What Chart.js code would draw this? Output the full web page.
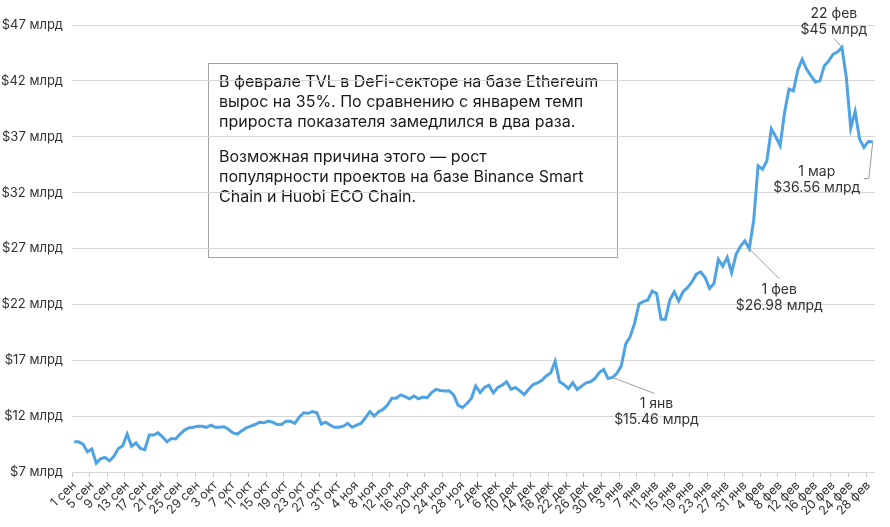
<!DOCTYPE html>
<html>
<head>
<meta charset="utf-8">
<script src="https://cdn.jsdelivr.net/npm/chart.js@4"></script>
<style>
  html, body { margin: 0; padding: 0; background: #fff; }
  #wrap { width: 890px; height: 527px; }
</style>
</head>
<body>
<div id="wrap"><canvas id="tvlChart"></canvas></div>
<script>
// Daily TVL in Ethereum DeFi, $ bn, 1 Sep – 1 Mar
const monthNames = ['сен', 'окт', 'ноя', 'дек', 'янв', 'фев', 'мар'];
const monthDays = [30, 31, 30, 31, 31, 28, 1];

const sepValues = [9.7, 9.7, 9.5, 8.8, 9.05, 7.8, 8.2, 8.3, 8.0, 8.4, 9.1, 9.35, 10.4, 9.3, 9.6,
  9.1, 9.0, 10.3, 10.3, 10.5, 10.15, 9.7, 10.0, 9.95, 10.4, 10.75, 10.95, 11.0, 11.1, 11.1];
const octValues = [11.0, 11.2, 11.0, 11.0, 11.05, 10.8, 10.5, 10.4, 10.7, 10.95, 11.1, 11.25, 11.45,
  11.4, 11.55, 11.45, 11.25, 11.25, 11.55, 11.55, 11.35, 11.9, 12.3, 12.25, 12.4, 12.3, 11.3, 11.45,
  11.2, 11.0, 11.0];
const novValues = [11.1, 11.35, 11.0, 11.2, 11.35, 11.85, 12.4, 12.0, 12.4, 12.6, 13.0, 13.6, 13.6,
  13.9, 13.75, 13.55, 13.8, 13.55, 13.7, 13.65, 14.1, 14.4, 14.3, 14.25, 14.26, 13.9, 12.98, 12.77,
  13.13, 13.58];
const decValues = [14.7, 14.11, 14.56, 14.77, 14.08, 14.56, 14.77, 15.07, 14.41, 14.56, 14.26, 13.93,
  14.41, 14.83, 14.98, 15.2, 15.6, 15.87, 16.9, 15.07, 14.83, 14.47, 15.0, 14.38, 14.68, 14.98, 15.07,
  15.36, 15.9, 16.17, 15.36];
const janValues = [15.46, 15.84, 16.5, 18.46, 19.11, 20.3, 22.03, 22.24, 22.39, 23.19, 22.98, 20.66,
  20.66, 22.39, 23.13, 22.3, 23.13, 23.49, 24.0, 24.7, 24.9, 24.4, 23.43, 23.87, 26.02, 25.42, 26.2,
  24.83, 26.46, 27.2, 27.68];
const febValues = [26.98, 29.5, 34.4, 34.1, 34.86, 37.7, 37.0, 36.2, 39.17, 41.26, 41.1, 42.95, 43.93,
  43.04, 42.45, 41.9, 42.0, 43.34, 43.79, 44.38, 44.59, 45, 42.3, 37.77, 39.26, 36.8, 36.05, 36.58];
const marValues = [36.56];

const tvlValues = [].concat(sepValues, octValues, novValues, decValues, janValues, febValues, marValues);

const yMin = 7, yMax = 47, yStep = 5;

const labels = [];
monthNames.forEach((m, k) => {
  for (let d = 1; d <= monthDays[k]; d++) labels.push(d + ' ' + m);
});

const callouts = ['1 янв', '1 фев', '22 фев', '1 мар'];

const noteLines = [
  'В феврале TVL в DeFi-секторе на базе Ethereum',
  'вырос на 35%. По сравнению с январем темп',
  'прироста показателя замедлился в два раза.',
  '',
  'Возможная причина этого — рост',
  'популярности проектов на базе Binance Smart',
  'Chain и Huobi ECO Chain.'
];

const FONT = 'Inter, "Helvetica Neue", Arial, sans-serif';

// where each callout's text and leader sit relative to its point (px)
const calloutStyle = {
  '1 янв':  { leader: [[42, 16]], text: [44, 26] },
  '1 фев':  { leader: [[30, 30]], text: [30, 41] },
  '22 фев': { leader: [[-8, -9]], text: [-8, -34] },
  '1 мар':  { leader: [[-4, 37], [-9, 37]], text: [-56, 30] }
};

const noteBox = {
  id: 'noteBox',
  beforeDraw(chart) {
    const c = chart.ctx;
    c.save();
    c.strokeStyle = '#a0a0a0';
    c.lineWidth = 1;
    c.strokeRect(208.5, 63.5, 409, 194);
    c.fillStyle = '#1a1a1a';
    c.font = '16px ' + FONT;
    c.textBaseline = 'middle';
    let y = 82;
    noteLines.forEach(line => {
      if (line === '') { y += 15; return; }
      c.fillText(line, 219, y);
      y += 20;
    });
    c.restore();
  }
};

const calloutPlugin = {
  id: 'callouts',
  afterDatasetsDraw(chart) {
    const c = chart.ctx;
    const meta = chart.getDatasetMeta(0);
    c.save();
    callouts.forEach(name => {
      const i = labels.indexOf(name);
      const pt = meta.data[i];
      const st = calloutStyle[name];
      c.strokeStyle = '#9a9a9a';
      c.lineWidth = 1;
      c.beginPath();
      c.moveTo(pt.x, pt.y);
      st.leader.forEach(([dx, dy]) => c.lineTo(pt.x + dx, pt.y + dy));
      c.stroke();
      c.fillStyle = '#333';
      c.font = '14px ' + FONT;
      c.textAlign = 'center';
      c.textBaseline = 'middle';
      const tx = pt.x + st.text[0], ty = pt.y + st.text[1];
      c.fillText(name, tx, ty);
      c.fillText('$' + tvlValues[i] + ' млрд', tx, ty + 16);
    });
    c.restore();
  }
};

new Chart(document.getElementById('tvlChart'), {
  type: 'line',
  data: {
    labels: labels,
    datasets: [{
      data: tvlValues,
      borderColor: '#4fa3e2',
      borderWidth: 3,
      pointRadius: 0,
      tension: 0,
      fill: false
    }]
  },
  options: {
    responsive: true,
    maintainAspectRatio: false,
    animation: false,
    layout: { padding: { top: 25, right: 15, left: 0, bottom: 0 } },
    plugins: { legend: { display: false }, tooltip: { enabled: false } },
    scales: {
      x: {
        offset: true,
        grid: {
          offset: true,
          drawOnChartArea: false,
          tickLength: 5,
          color: ctx => (ctx.index % 4 === 0 ? '#c8c8c8' : 'rgba(0,0,0,0)')
        },
        border: { display: false },
        ticks: {
          autoSkip: false,
          minRotation: 45,
          maxRotation: 45,
          padding: 1,
          color: '#333',
          font: { family: FONT, size: 12.5 },
          callback: (v, i) => (i % 4 === 0 ? labels[i] : '')
        },
        afterFit: scale => { scale.height = 55; }
      },
      y: {
        min: yMin,
        max: yMax,
        grid: { color: '#d6d6d6', drawTicks: false },
        border: { display: false },
        ticks: {
          stepSize: yStep,
          padding: 9,
          color: '#333',
          font: { family: FONT, size: 13 },
          callback: v => '$' + v + ' млрд'
        },
        afterFit: scale => { scale.width = 72; }
      }
    }
  },
  plugins: [noteBox, calloutPlugin]
});
</script>
</body>
</html>
